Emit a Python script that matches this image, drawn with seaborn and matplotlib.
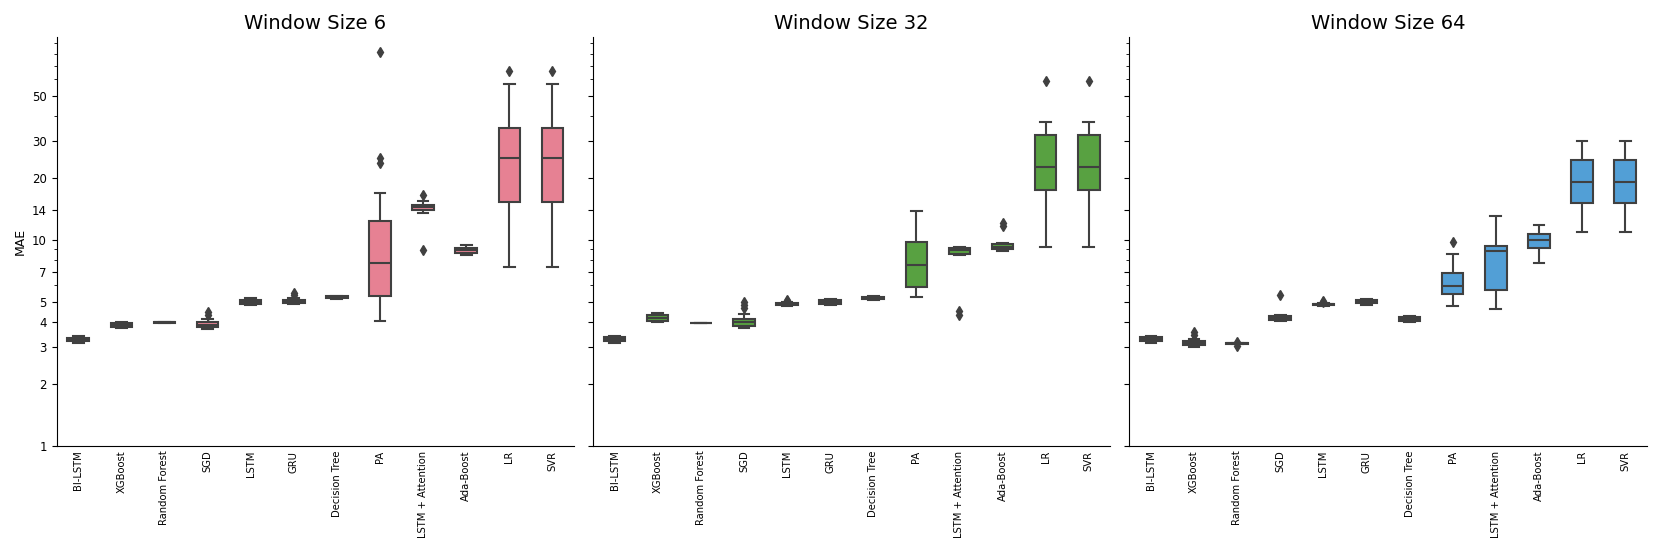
import matplotlib
matplotlib.use('Agg')
import matplotlib.pyplot as plt
import matplotlib.ticker as mticker
import pandas as pd
import seaborn as sns

models = ['BI-LSTM', 'XGBoost', 'Random Forest', 'SGD', 'LSTM', 'GRU',
          'Decision Tree', 'PA', 'LSTM + Attention', 'Ada-Boost', 'LR', 'SVR']
windows = [6, 32, 64]
y_ticks = [1, 2, 3, 4, 5, 7, 10, 14, 20, 30, 50]

# MAE per run
mae_w6 = {
    'BI-LSTM': [3.15, 3.18, 3.20, 3.22, 3.24, 3.26, 3.28, 3.30, 3.33, 3.35, 3.37, 3.39, 3.40],
    'XGBoost': [3.72, 3.74, 3.76, 3.78, 3.80, 3.83, 3.85, 3.87, 3.90, 3.93, 3.95, 3.97, 3.98],
    'Random Forest': [3.95, 3.95, 3.96, 3.96, 3.96, 3.97, 3.97, 3.97, 3.97, 3.98, 3.98, 3.98, 3.99],
    'SGD': [3.67, 3.72, 3.75, 3.78, 3.81, 3.84, 3.86, 3.89, 3.93, 3.97, 4.10, 4.30, 4.45],
    'LSTM': [4.80, 4.83, 4.86, 4.88, 4.92, 4.96, 5.00, 5.04, 5.08, 5.12, 5.16, 5.19, 5.22],
    'GRU': [4.88, 4.90, 4.92, 4.93, 4.96, 4.99, 5.02, 5.05, 5.08, 5.10, 5.20, 5.40, 5.50],
    'Decision Tree': [5.16, 5.18, 5.19, 5.20, 5.22, 5.24, 5.25, 5.26, 5.28, 5.30, 5.31, 5.32, 5.34],
    'PA': [4.03, 4.4, 4.8, 5.1, 5.33, 5.9, 6.5, 7.1, 7.71, 8.6, 9.8, 11.2, 12.3, 16.9, 23.5, 25.0, 81.0],
    'LSTM + Attention': [8.9, 13.4, 13.7, 13.9, 14.1, 14.3, 14.4, 14.5, 14.7, 14.8, 15.1, 15.4, 16.5],
    'Ada-Boost': [8.43, 8.50, 8.55, 8.60, 8.70, 8.80, 8.90, 8.97, 9.05, 9.15, 9.25, 9.35, 9.45],
    'LR': [7.4, 10.5, 13.0, 15.3, 18.5, 21.5, 24.8, 27.5, 31.0, 35.0, 43.0, 57.0, 66.0],
    'SVR': [7.4, 10.5, 13.0, 15.3, 18.5, 21.5, 24.8, 27.5, 31.0, 35.0, 43.0, 57.0, 66.0],
}

mae_w32 = {
    'BI-LSTM': [3.16, 3.18, 3.20, 3.22, 3.25, 3.27, 3.30, 3.32, 3.34, 3.37, 3.38, 3.40, 3.42],
    'XGBoost': [3.99, 4.01, 4.03, 4.05, 4.09, 4.14, 4.18, 4.22, 4.26, 4.30, 4.34, 4.37, 4.40],
    'Random Forest': [3.92, 3.92, 3.93, 3.93, 3.93, 3.94, 3.94, 3.94, 3.94, 3.95, 3.95, 3.95, 3.96],
    'SGD': [3.71, 3.74, 3.76, 3.78, 3.80, 3.85, 3.90, 3.94, 3.98, 4.01, 4.04, 4.07, 4.10, 4.35, 4.65, 4.82, 5.00],
    'LSTM': [4.78, 4.80, 4.81, 4.82, 4.83, 4.85, 4.86, 4.87, 4.89, 4.90, 4.96, 5.05, 5.12],
    'GRU': [4.80, 4.83, 4.86, 4.88, 4.91, 4.95, 4.98, 5.01, 5.05, 5.08, 5.11, 5.13, 5.15],
    'Decision Tree': [5.10, 5.13, 5.15, 5.17, 5.19, 5.21, 5.23, 5.25, 5.27, 5.29, 5.31, 5.32, 5.34],
    'PA': [5.25, 5.45, 5.70, 5.91, 6.40, 7.00, 7.54, 8.10, 8.90, 9.71, 11.0, 12.5, 13.7],
    'LSTM + Attention': [4.30, 4.50, 8.45, 8.50, 8.65, 8.80, 8.95, 9.00, 9.08, 9.14, 9.16, 9.18, 9.20],
    'Ada-Boost': [8.79, 8.86, 8.92, 8.98, 9.07, 9.16, 9.25, 9.34, 9.44, 9.53, 9.66, 11.6, 12.1],
    'LR': [9.19, 12.0, 15.0, 17.4, 19.0, 21.0, 22.6, 25.0, 28.5, 32.2, 34.5, 37.3, 58.9],
    'SVR': [9.19, 12.0, 15.0, 17.4, 19.0, 21.0, 22.6, 25.0, 28.5, 32.2, 34.5, 37.3, 58.9],
}

mae_w64 = {
    'BI-LSTM': [3.16, 3.18, 3.20, 3.22, 3.25, 3.27, 3.30, 3.32, 3.34, 3.37, 3.38, 3.40, 3.42],
    'XGBoost': [3.02, 3.04, 3.06, 3.08, 3.10, 3.13, 3.15, 3.17, 3.20, 3.22, 3.30, 3.45, 3.55],
    'Random Forest': [3.06, 3.13, 3.13, 3.13, 3.14, 3.14, 3.14, 3.14, 3.15, 3.15, 3.15, 3.15, 3.20],
    'SGD': [4.02, 4.04, 4.05, 4.06, 4.10, 4.14, 4.17, 4.20, 4.24, 4.28, 4.30, 4.33, 5.39],
    'LSTM': [4.78, 4.80, 4.82, 4.83, 4.84, 4.85, 4.86, 4.87, 4.88, 4.89, 4.92, 5.00, 5.05],
    'GRU': [4.82, 4.85, 4.88, 4.90, 4.93, 4.97, 5.00, 5.03, 5.07, 5.10, 5.12, 5.14, 5.16],
    'Decision Tree': [3.98, 4.00, 4.01, 4.02, 4.05, 4.08, 4.10, 4.12, 4.16, 4.20, 4.22, 4.23, 4.24],
    'PA': [4.78, 5.0, 5.2, 5.43, 5.6, 5.8, 5.96, 6.2, 6.5, 6.87, 7.5, 8.55, 9.78],
    'LSTM + Attention': [4.59, 5.0, 5.4, 5.68, 6.6, 7.8, 8.84, 9.0, 9.2, 9.35, 10.5, 11.8, 13.08],
    'Ada-Boost': [7.68, 8.3, 8.8, 9.14, 9.4, 9.7, 9.96, 10.2, 10.45, 10.66, 11.0, 11.4, 11.83],
    'LR': [10.9, 12.5, 13.8, 15.0, 16.5, 17.8, 19.0, 20.5, 22.5, 24.4, 26.5, 28.5, 30.2],
    'SVR': [10.9, 12.5, 13.8, 15.0, 16.5, 17.8, 19.0, 20.5, 22.5, 24.4, 26.5, 28.5, 30.2],
}


def to_long(data):
    rows = []
    for model in models:
        for v in data[model]:
            rows.append({'Model': model, 'MAE': v})
    return pd.DataFrame(rows)


palette = sns.color_palette('husl', 3)

fig, axes = plt.subplots(1, 3, figsize=(16.61, 5.54), dpi=100, sharey=True)
plt.subplots_adjust(left=0.0341, right=0.9914, bottom=0.1955, top=0.9327, wspace=0.0367)

# draw every box first (linear stats), switch to log afterwards
for i, (ax, data) in enumerate(zip(axes, [mae_w6, mae_w32, mae_w64])):
    df = to_long(data)
    sns.boxplot(data=df, x='Model', y='MAE', order=models, color=palette[i],
                width=0.5, linewidth=1.5, linecolor='.25', fliersize=5,
                flierprops=dict(marker='d', markerfacecolor='.25',
                                markeredgecolor='.25'),
                ax=ax)

for i, ax in enumerate(axes):
    ax.set_yscale('log')
    ax.set_ylim(1, 96)
    ax.set_xlim(-0.5, len(models) - 0.5)
    ax.set_title(f'Window Size {windows[i]}', fontsize=14)
    ax.set_xlabel('')
    ax.tick_params(axis='x', labelrotation=90, labelsize=7.2, length=0)
    ax.tick_params(axis='y', labelsize=8.5)
    ax.spines['top'].set_visible(False)
    ax.spines['right'].set_visible(False)

axes[0].set_yticks(y_ticks)
axes[0].yaxis.set_major_formatter(mticker.FixedFormatter([str(t) for t in y_ticks]))
axes[0].yaxis.set_minor_formatter(mticker.NullFormatter())
axes[0].set_ylabel('MAE', fontsize=9)
for ax in axes[1:]:
    ax.set_ylabel('')

plt.savefig('out.png')
plt.close()
